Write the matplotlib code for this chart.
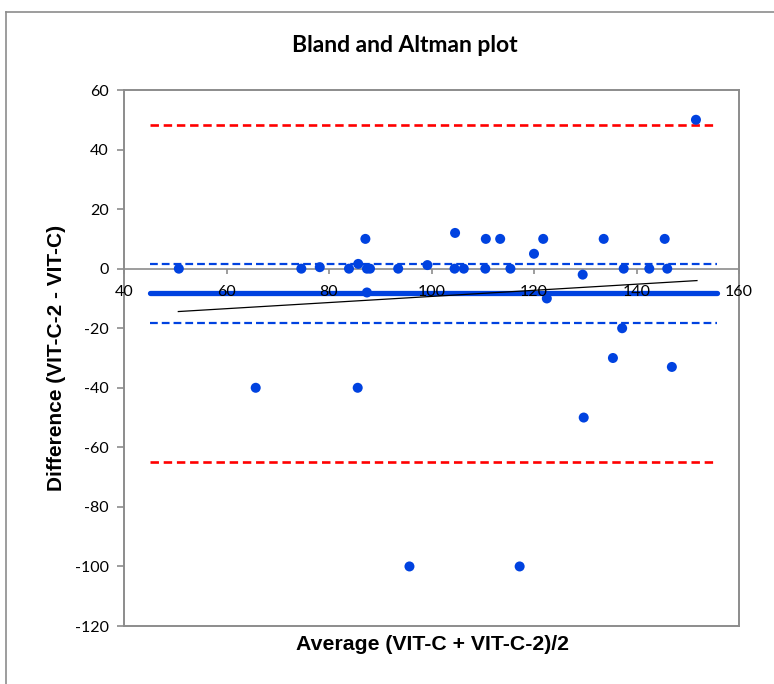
import numpy as np
import matplotlib.pyplot as plt
from matplotlib.lines import Line2D

plt.rcParams["axes.unicode_minus"] = False

# ---- data ----
avg = [50.7, 65.7, 74.6, 78.2, 83.9, 85.6, 85.7, 87.1, 87.4, 87.4, 88.0, 93.5,
       95.7, 99.2, 104.5, 104.6, 106.3, 110.5, 110.6, 113.4, 115.4, 117.2,
       120.0, 121.8, 122.5, 129.5, 129.7, 133.6, 135.4, 137.2, 137.5, 142.5,
       145.5, 146.0, 146.9, 151.6]
diff = [0, -40, 0, 0.5, 0, -40, 1.6, 10, 0, -8, 0, 0,
        -100, 1.2, 0, 12, 0, 0, 10, 10, 0, -100,
        5, 10, -10, -2, -50, 10, -30, -20, 0, 0,
        10, 0, -33, 50]

line_x = [45, 155.8]           # extent of the horizontal reference lines
mean_diff = -8.3
ci_mean = [1.6, -18.2]         # confidence interval of the mean
loa = [48.2, -64.9]            # limits of agreement
trend_x = [50.6, 151.8]        # regression line end points
trend_y = [-14.4, -4.0]

x_ticks = [40, 60, 80, 100, 120, 140, 160]
y_ticks = [-120, -100, -80, -60, -40, -20, 0, 20, 40, 60]

BLUE = "#0042E0"
RED = "#FF0000"
GRAY = "#8C8C8C"

fig = plt.figure(figsize=(7.74, 6.84), dpi=100)
ax = fig.add_axes([124 / 774, 1 - 626 / 684, (739 - 124) / 774, (626 - 90) / 684])

# outer chart-area border (only top and left visible in the screenshot)
fig.add_artist(Line2D([6 / 774, 6 / 774], [0, 1 - 12 / 684], color=GRAY, lw=1.2,
                      transform=fig.transFigure))
fig.add_artist(Line2D([6 / 774, 1], [1 - 12 / 684, 1 - 12 / 684], color=GRAY, lw=1.2,
                      transform=fig.transFigure))

ax.set_xlim(40, 160)
ax.set_ylim(-120, 60)

# horizontal axis line through zero
ax.axhline(0, color=GRAY, lw=1.2, zorder=1)

for v in loa:
    ax.plot(line_x, [v, v], color=RED, lw=1.9, dashes=(3.2, 1.8), zorder=2)
for v in ci_mean:
    ax.plot(line_x, [v, v], color=BLUE, lw=1.6, dashes=(3.5, 1.8), zorder=2)
ax.plot(line_x, [mean_diff, mean_diff], color=BLUE, lw=3.8,
        solid_capstyle="round", zorder=2)
ax.plot(trend_x, trend_y, color="black", lw=0.9, zorder=3)
ax.scatter(avg, diff, s=52, color=BLUE, edgecolors="none", zorder=4)

# frame
for sp in ax.spines.values():
    sp.set_color(GRAY)
    sp.set_linewidth(1.4)

# y axis
ax.set_yticks(y_ticks)
ax.tick_params(axis="y", direction="out", length=5, color=GRAY, width=1.2,
               labelsize=11.5, labelcolor="black", pad=6)
for lab in ax.get_yticklabels():
    lab.set_fontfamily("Lato")

# x ticks sit at y = 0, labels drawn on top of the lines
ax.set_xticks([])
sec = ax.secondary_xaxis(120 / 180)
sec.set_zorder(10)
sec.xaxis.set_ticks_position("bottom")
sec.xaxis.set_label_position("bottom")
sec.set_xticks(x_ticks)
for sp in sec.spines.values():
    sp.set_visible(False)
sec.tick_params(axis="x", direction="out", length=3.6, color=GRAY, width=1.2,
                labelsize=11.5, labelcolor="black", pad=8)
for lab in sec.get_xticklabels():
    lab.set_fontfamily("Lato")

fig.text(405 / 774, 1 - 45 / 684, "Bland and Altman plot", ha="center", va="center",
         fontsize=16.5, fontweight="bold", family="Lato")
fig.text(57 / 774, 1 - 358 / 684, "Difference (VIT-C-2 - VIT-C)", ha="center",
         va="center", rotation=90, fontsize=15, fontweight="bold",
         family="Liberation Sans")
fig.text(432 / 774, 1 - 645 / 684, "Average (VIT-C + VIT-C-2)/2", ha="center",
         va="center", fontsize=15.3, fontweight="bold", family="Liberation Sans")

fig.savefig("out.png", dpi=100)
